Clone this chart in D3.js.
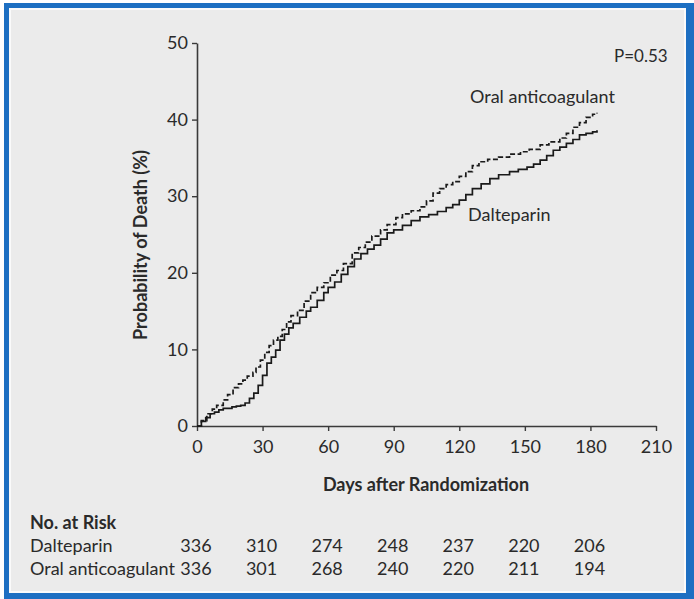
<!DOCTYPE html>
<html>
<head>
<meta charset="utf-8">
<script src="https://cdn.jsdelivr.net/npm/d3@7"></script>
<style>
  html, body { margin: 0; padding: 0; background: #fff; }
  svg { display: block; }
  text { font-family: Lato, "Open Sans", sans-serif; fill: #2a2a2a; }
</style>
</head>
<body>
<svg id="chart" width="694" height="599"></svg>
<script>
// Kaplan-Meier cumulative mortality, days 0-183
const daltDays = [0,2,4,6,8,10,12,14,16,18,20,22,24,26,28,30,32,34,36,38,40,42,44,47,50,52,55,58,60,63,66,69,72,75,78,81,84,87,90,94,98,102,106,110,114,117,120,123,126,130,134,138,143,147,151,154,157,160,163,166,169,172,175,178,181,183];
const daltProb = [0,0.6,1.1,1.6,1.8,2.1,2.3,2.3,2.5,2.6,2.7,3.0,3.6,4.3,5.3,6.6,8.2,9.0,9.9,11.2,12.0,12.8,13.4,14.2,15.0,15.5,16.4,17.4,18.1,18.8,19.8,20.8,21.8,22.5,23.1,23.6,24.4,25.2,25.6,26.2,26.8,27.3,27.6,28.0,28.5,28.9,29.5,30.2,31.0,31.6,32.3,32.8,33.2,33.5,33.8,34.2,34.7,35.3,36.0,36.4,36.9,37.4,38.0,38.2,38.4,38.6];

const oralDays = [0,2,4.5,7,9,12,14,16.5,19,21,23,25.6,27,29,31,33,35,37,39,41,43,46,49,52,55,58,61,64,67,71,74,77,80,84,87,91,94,98,102,105,108,111,114,117,120,123,126,129,133,138,143,148,152,157,161,166,169,172,175,178,181,183];
const oralProb = [0,0.7,1.6,2.2,2.7,3.4,4.1,5.0,5.5,6.0,6.5,7.0,7.7,8.6,9.6,10.5,11.2,11.7,12.6,13.6,14.4,15.1,16.3,17.4,18.1,18.7,19.7,20.3,21.2,22.6,23.3,24.0,24.8,25.6,26.3,27.2,27.7,28.1,28.6,29.4,30.4,31.0,31.5,31.9,32.6,33.2,34.0,34.5,34.8,35.1,35.5,35.8,36.1,36.7,37.1,37.6,38.2,39.0,39.6,40.3,40.7,40.9];

const xTicks = [0,30,60,90,120,150,180,210];
const yTicks = [0,10,20,30,40,50];

// Number at risk, at days 0..180
const riskDays = [0,30,60,90,120,150,180];
const riskDalt = [336,310,274,248,237,220,206];
const riskOral = [336,301,268,240,220,211,194];

const seriesNames = ["Dalteparin", "Oral anticoagulant"];

const svg = d3.select("#chart");

// Framed panel
svg.append("rect").attr("x", 4).attr("y", 3).attr("width", 690).attr("height", 596).attr("fill", "#1d6fc2");
svg.append("rect").attr("x", 9).attr("y", 8).attr("width", 677).attr("height", 585).attr("fill", "#fafafa");
svg.append("rect").attr("x", 11).attr("y", 10).attr("width", 673).attr("height", 581).attr("fill", "#ebebeb");

const x = d3.scaleLinear().domain([0, 210]).range([197, 656]);
const y = d3.scaleLinear().domain([0, 50]).range([426, 43]);

const axisColor = "#3a3a3a";

const yAxis = svg.append("g")
  .attr("transform", `translate(${x(0)},0)`)
  .call(d3.axisLeft(y).tickValues(yTicks).tickSize(5).tickSizeOuter(0).tickPadding(4));
const xAxis = svg.append("g")
  .attr("transform", `translate(0,${y(0)})`)
  .call(d3.axisBottom(x).tickValues(xTicks).tickSize(5).tickSizeOuter(0).tickPadding(9));

[xAxis, yAxis].forEach(g => {
  g.selectAll("path.domain").attr("stroke", axisColor).attr("stroke-width", 1.6);
  g.selectAll(".tick line").attr("stroke", axisColor).attr("stroke-width", 1.4);
  g.selectAll(".tick text").attr("font-size", 18).attr("fill", "#2a2a2a")
    .style("font-family", "Lato, 'Open Sans', sans-serif");
});

// Survival curves
const line = d3.line()
  .x(d => x(d[0]))
  .y(d => y(d[1]))
  .curve(d3.curveStepAfter);

const daltPts = daltDays.map((d, i) => [d, daltProb[i]]);
const oralPts = oralDays.map((d, i) => [d, oralProb[i]]);

svg.append("path").datum(oralPts).attr("d", line)
  .attr("fill", "none").attr("stroke", "#1a1a1a").attr("stroke-width", 1.7)
  .attr("stroke-dasharray", "5,2.5");
svg.append("path").datum(daltPts).attr("d", line)
  .attr("fill", "none").attr("stroke", "#1a1a1a").attr("stroke-width", 1.7);

// Curve labels and P value
svg.append("text").attr("x", 470).attr("y", 103).attr("font-size", 18).text(seriesNames[1]);
svg.append("text").attr("x", 468).attr("y", 221).attr("font-size", 18).text(seriesNames[0]);
svg.append("text").attr("x", 614).attr("y", 62).attr("font-size", 17).text("P=0.53");

// Axis titles
svg.append("text").attr("x", 426).attr("y", 491).attr("text-anchor", "middle")
  .attr("font-size", 18).attr("font-weight", "bold").text("Days after Randomization");
svg.append("text").attr("transform", "translate(147,245) rotate(-90)").attr("text-anchor", "middle")
  .attr("font-size", 18).attr("font-weight", "bold").text("Probability of Death (%)");

// Number-at-risk table
svg.append("text").attr("x", 30).attr("y", 529).attr("font-size", 18).attr("font-weight", "bold").text("No. at Risk");
svg.append("text").attr("x", 30).attr("y", 552).attr("font-size", 18).text(seriesNames[0]);
svg.append("text").attr("x", 30).attr("y", 575).attr("font-size", 18).text(seriesNames[1]);

svg.append("g").selectAll("text").data(riskDays).join("text")
  .attr("x", d => x(d) - 1).attr("y", 552).attr("text-anchor", "middle").attr("font-size", 18)
  .text((d, i) => riskDalt[i]);
svg.append("g").selectAll("text").data(riskDays).join("text")
  .attr("x", d => x(d) - 1).attr("y", 575).attr("text-anchor", "middle").attr("font-size", 18)
  .text((d, i) => riskOral[i]);
</script>
</body>
</html>
